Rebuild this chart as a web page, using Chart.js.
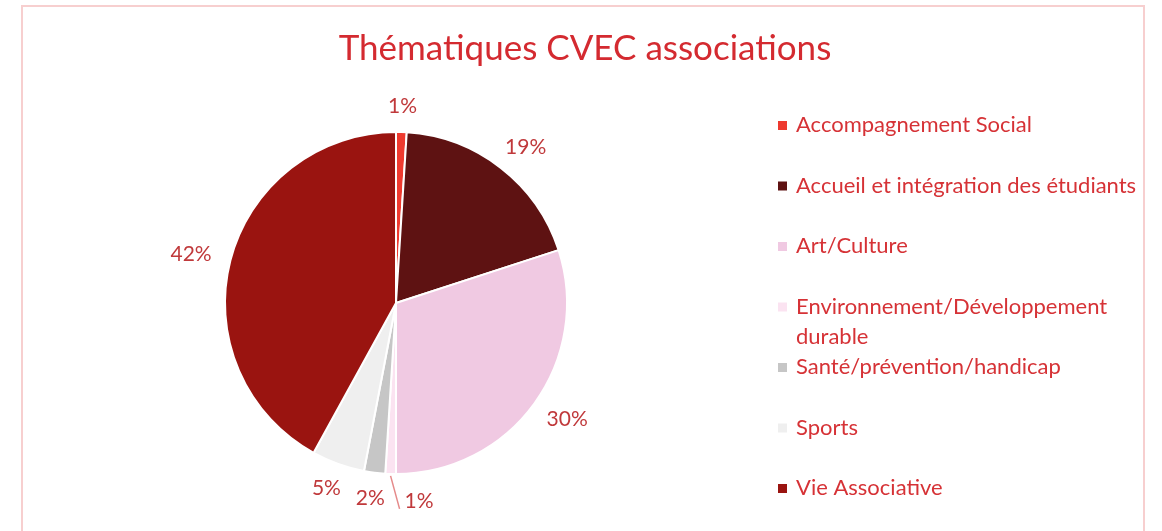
<!DOCTYPE html>
<html>
<head>
<meta charset="utf-8">
<script src="https://cdn.jsdelivr.net/npm/chart.js@4"></script>
<style>
  html, body { margin: 0; padding: 0; background: #fff; }
  #wrap { position: relative; width: 1162px; height: 531px; overflow: hidden; }
  #frame { position: absolute; left: 21px; top: 5px; width: 1124px; height: 600px;
           border: 2px solid #f7cfcf; box-sizing: border-box; }
  canvas { position: absolute; left: 0; top: 0; }
</style>
</head>
<body>
<div id="wrap">
  <div id="frame"></div>
  <canvas id="pie" width="1162" height="531"></canvas>
</div>
<script>
const chartTitle = "Thématiques CVEC associations";

const categories = [
  "Accompagnement Social",
  "Accueil et intégration des étudiants",
  "Art/Culture",
  "Environnement/Développement durable",
  "Santé/prévention/handicap",
  "Sports",
  "Vie Associative",
];

const shares = [1, 19, 30, 1, 2, 5, 42];

const colors = [
  "#ee3a2f",
  "#5e1212",
  "#f0c9e2",
  "#fbe3f1",
  "#c6c6c6",
  "#efefef",
  "#9a1410",
];

const FONT = "Lato, 'Open Sans', sans-serif";

// title centred on the whole frame, not on the pie area
const pageTitle = {
  id: "pageTitle",
  afterDraw(chart) {
    const ctx = chart.ctx;
    ctx.save();
    ctx.font = "35px " + FONT;
    ctx.fillStyle = "#d42a30";
    ctx.textAlign = "center";
    ctx.textBaseline = "middle";
    ctx.fillText(chartTitle, 585, 49);
    ctx.restore();
  },
};

// percent labels outside the slices (one with a leader line)
const outsideLabels = {
  id: "outsideLabels",
  afterDatasetsDraw(chart) {
    const ctx = chart.ctx;
    const arcs = chart.getDatasetMeta(0).data;
    const vals = chart.data.datasets[0].data;
    const total = vals.reduce((a, b) => a + b, 0);
    ctx.save();
    ctx.font = "21px " + FONT;
    ctx.fillStyle = "#c0393b";
    ctx.textAlign = "center";
    ctx.textBaseline = "middle";
    arcs.forEach((arc, i) => {
      const { x, y, startAngle, endAngle, outerRadius } = arc.getProps(
        ["x", "y", "startAngle", "endAngle", "outerRadius"], true);
      const mid = (startAngle + endAngle) / 2;
      const c = Math.cos(mid), s = Math.sin(mid);
      const txt = Math.round(vals[i] / total * 100) + "%";
      const w = ctx.measureText(txt).width;
      if (i === 3) {
        const x0 = x + c * (outerRadius + 2), y0 = y + s * (outerRadius + 2);
        const x1 = x0 + 9, y1 = y0 + 33;
        ctx.strokeStyle = "#e58a8a";
        ctx.lineWidth = 1.5;
        ctx.beginPath();
        ctx.moveTo(x0, y0);
        ctx.lineTo(x1, y1);
        ctx.stroke();
        ctx.textAlign = "left";
        ctx.fillText(txt, x1 + 5, y1 - 8);
        ctx.textAlign = "center";
        return;
      }
      const r = outerRadius + 20;
      ctx.fillText(txt, x + c * r + c * w / 2, y + s * r + s * 6);
    });
    ctx.restore();
  },
};

// legend on the right, one row every ~60px, long text wraps
const sideLegend = {
  id: "sideLegend",
  afterDraw(chart) {
    const ctx = chart.ctx;
    const labels = chart.data.labels;
    const bg = chart.data.datasets[0].backgroundColor;
    const left = 778, top = 125, step = 60.5, maxW = 352;
    ctx.save();
    ctx.font = "22px " + FONT;
    ctx.textBaseline = "middle";
    ctx.textAlign = "left";
    labels.forEach((lab, i) => {
      const yc = top + i * step;
      ctx.fillStyle = bg[i];
      ctx.fillRect(left, yc - 4, 9, 9);
      ctx.fillStyle = "#d63236";
      const words = lab.split(" ");
      let line = "", ly = yc;
      words.forEach((wd) => {
        const test = line ? line + " " + wd : wd;
        if (line && ctx.measureText(test).width > maxW) {
          ctx.fillText(line, left + 18, ly);
          line = wd;
          ly += 30;
        } else {
          line = test;
        }
      });
      ctx.fillText(line, left + 18, ly);
    });
    ctx.restore();
  },
};

new Chart(document.getElementById("pie"), {
  type: "pie",
  data: {
    labels: categories,
    datasets: [{
      data: shares,
      backgroundColor: colors,
      borderColor: "#ffffff",
      borderWidth: 2,
    }],
  },
  options: {
    responsive: false,
    animation: false,
    events: [],
    layout: {
      padding: { top: 131, bottom: 56, left: 200, right: 570 },
    },
    plugins: {
      legend: { display: false },
      tooltip: { enabled: false },
      title: { display: false },
    },
  },
  plugins: [outsideLabels, sideLegend, pageTitle],
});
</script>
</body>
</html>
